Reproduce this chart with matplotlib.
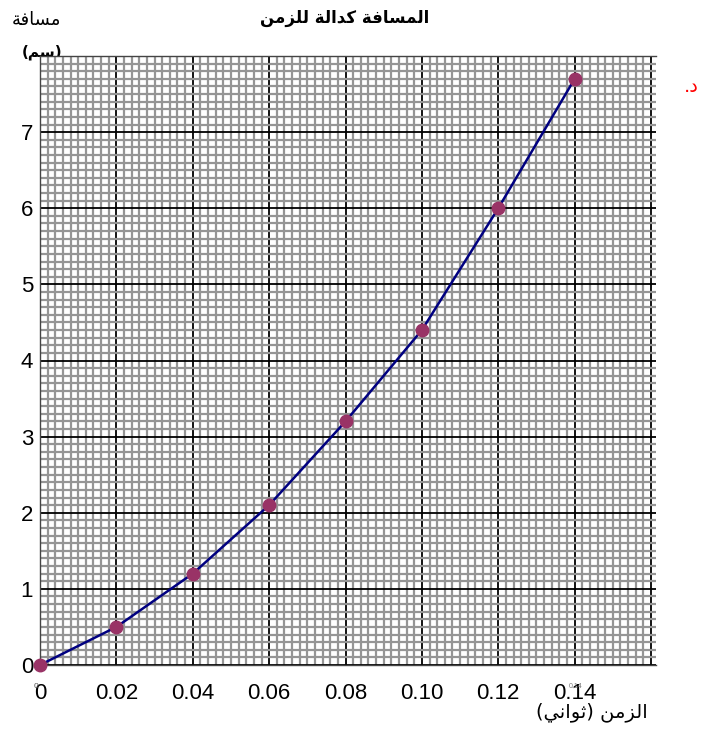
import matplotlib
matplotlib.use('Agg')
import matplotlib.pyplot as plt
import numpy as np

plt.rcParams['font.family'] = ['Liberation Sans', 'DejaVu Sans']

# measured time (s) and distance (cm)
times = [0.0, 0.02, 0.04, 0.06, 0.08, 0.10, 0.12, 0.14]
dists = [0.0, 0.5, 1.2, 2.1, 3.2, 4.4, 6.0, 7.7]
xtick_vals = [0.0, 0.02, 0.04, 0.06, 0.08, 0.10, 0.12, 0.14]
xtick_labels = ['0', '0.02', '0.04', '0.06', '0.08', '0.10', '0.12', '0.14']
ytick_vals = [0, 1, 2, 3, 4, 5, 6, 7]

title = 'المسافة كدالة للزمن'
xlabel = 'الزمن (ثواني)'
ylabel_top = 'مسافة'
ylabel_unit = '(سم)'
side_mark = 'د.'

# isolated, final, initial, medial presentation forms
FORMS = {
    'ا': (0xFE8D, 0xFE8E, None, None),
    'د': (0xFEA9, 0xFEAA, None, None),
    'ز': (0xFEAF, 0xFEB0, None, None),
    'و': (0xFEED, 0xFEEE, None, None),
    'ة': (0xFE93, 0xFE94, None, None),
    'ل': (0xFEDD, 0xFEDE, 0xFEDF, 0xFEE0),
    'م': (0xFEE1, 0xFEE2, 0xFEE3, 0xFEE4),
    'س': (0xFEB1, 0xFEB2, 0xFEB3, 0xFEB4),
    'ف': (0xFED1, 0xFED2, 0xFED3, 0xFED4),
    'ك': (0xFED9, 0xFEDA, 0xFEDB, 0xFEDC),
    'ن': (0xFEE5, 0xFEE6, 0xFEE7, 0xFEE8),
    'ث': (0xFE99, 0xFE9A, 0xFE9B, 0xFE9C),
    'ي': (0xFEF1, 0xFEF2, 0xFEF3, 0xFEF4),
}


def shape(s):
    # join arabic letters and put them in visual (right to left) order
    out = []
    for i, ch in enumerate(s):
        if ch not in FORMS:
            out.append(ch)
            continue
        prev = s[i - 1] if i > 0 else ''
        nxt = s[i + 1] if i + 1 < len(s) else ''
        iso, fin, ini, med = FORMS[ch]
        jp = prev in FORMS and FORMS[prev][2] is not None
        jn = ini is not None and nxt in FORMS
        if jp and jn:
            c = med
        elif jp:
            c = fin
        elif jn:
            c = ini
        else:
            c = iso
        out.append(chr(c))
    mirror = {'(': ')', ')': '('}
    return ''.join(mirror.get(c, c) for c in reversed(out))


fig = plt.figure(figsize=(7.03, 7.29), dpi=100)
ax = fig.add_axes([40 / 703, 1 - 665 / 729, 616 / 703, 609 / 729])
ax.set_xlim(0, 0.1613)
ax.set_ylim(0, 8.0)

# graph paper grid
ax.set_xticks(np.arange(0, 0.1613, 0.002), minor=True)
ax.set_yticks(np.arange(0, 8.01, 0.1), minor=True)
ax.set_xticks(np.arange(0, 0.1613, 0.02))
ax.set_yticks(np.arange(0, 8.01, 1))
ax.grid(which='minor', color='#959595', linewidth=1.6, zorder=0)
ax.grid(which='major', color='black', linewidth=1.3, zorder=1)
ax.set_axisbelow(True)
ax.tick_params(which='both', length=0)
ax.set_xticklabels([xtick_labels[xtick_vals.index(round(v, 2))] if round(v, 2) in xtick_vals else ''
                    for v in ax.get_xticks()], fontsize=16)
ax.set_yticklabels([str(int(v)) if int(v) in ytick_vals else '' for v in ax.get_yticks()], fontsize=16)
ax.tick_params(axis='x', pad=13)
ax.tick_params(axis='y', pad=5)
for sp in ax.spines.values():
    sp.set_color('#444444')
    sp.set_linewidth(1.0)
ax.spines['right'].set_visible(False)

ax.plot(times, dists, color='#000080', linewidth=1.8, zorder=3, clip_on=False)
ax.plot(times, dists, 'o', color='#993366', markersize=9, zorder=4, clip_on=False)

fig.text(345 / 703, 1 - 18 / 729, shape(title), ha='center', va='center', fontsize=12,
         fontweight='bold', family='DejaVu Sans')
fig.text(36 / 703, 1 - 20 / 729, shape(ylabel_top), ha='center', va='center', fontsize=13,
         family='DejaVu Sans')
fig.text(42 / 703, 1 - 52 / 729, shape(ylabel_unit), ha='center', va='center', fontsize=11,
         fontweight='bold', family='DejaVu Sans', zorder=-1)
fig.text(592 / 703, 1 - 712 / 729, shape(xlabel), ha='center', va='center', fontsize=14,
         family='DejaVu Sans')
fig.text(691 / 703, 1 - 86 / 729, shape(side_mark), ha='center', va='center', fontsize=14,
         color='red', family='DejaVu Sans')

# small stray labels near the axis ticks
fig.text(36 / 703, 1 - 687 / 729, '0', ha='center', va='center', fontsize=6, color='#555555')
fig.text(576 / 703, 1 - 686 / 729, '0.14', ha='center', va='center', fontsize=5, color='#777777')

fig.savefig('out.png', dpi=100)
